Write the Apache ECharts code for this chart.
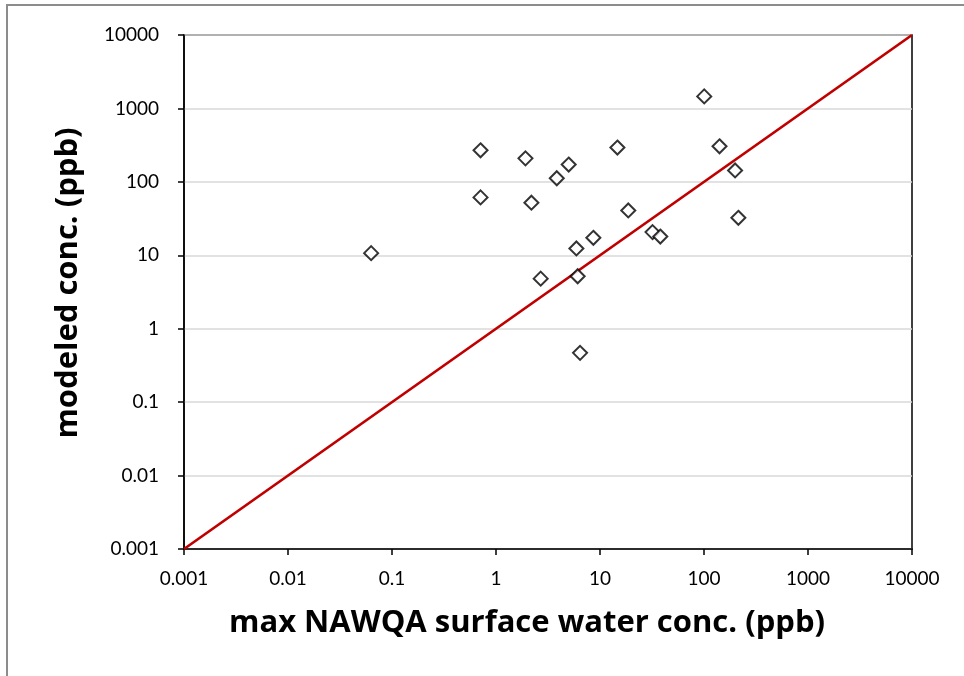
<!DOCTYPE html>
<html>
<head>
<meta charset="utf-8">
<script src="https://cdn.jsdelivr.net/npm/echarts@6/dist/echarts.min.js"></script>
<style>
  html, body { margin: 0; padding: 0; background: #fff; }
  #chart { width: 964px; height: 676px; }
</style>
</head>
<body>
<div id="chart"></div>
<script>
// Maximum NAWQA surface-water concentration vs. modeled concentration (ppb)
const nawqaMax = [0.063, 0.71, 0.71, 1.92, 2.19, 2.69, 3.84, 5.0, 5.93, 6.1, 6.43, 8.63, 14.7, 18.7, 32, 38, 100.5, 141, 199, 214];
const modeled  = [10.7, 269, 61.4, 209, 52, 4.81, 112, 172, 12.4, 5.18, 0.469, 17.3, 293, 40.8, 20.7, 18.0, 1459, 305, 143, 32.4];

// 1:1 reference line endpoints
const oneToOne = [0.001, 10000];

// Decade tick labels shared by both axes
const tickLabels = ['0.001', '0.01', '0.1', '1', '10', '100', '1000', '10000'];

const xTitle = 'max NAWQA surface water conc. (ppb)';
const yTitle = 'modeled conc. (ppb)';

const labelFont = 'Lato, "Open Sans", sans-serif';
const titleFont = '"Open Sans", Lato, sans-serif';

function decadeLabel(v) {
  const i = Math.round(Math.log10(v)) + 3;
  return tickLabels[i] !== undefined ? tickLabels[i] : '';
}

const chart = echarts.init(document.getElementById('chart'), null, { renderer: 'canvas' });

const axisCommon = {
  type: 'log',
  logBase: 10,
  min: 0.001,
  max: 10000,
  axisLine: { show: true, onZero: false, lineStyle: { color: '#000', width: 1.5 } },
  axisTick: { show: true, inside: false, length: 6, lineStyle: { color: '#000', width: 1.5 } },
  minorTick: { show: false },
  axisLabel: {
    formatter: decadeLabel,
    color: '#000',
    fontFamily: labelFont,
    fontSize: 19
  }
};

chart.setOption({
  animation: false,
  backgroundColor: '#fff',
  grid: { left: 184, top: 35, right: 52, bottom: 127, show: true, borderColor: '#000', borderWidth: 1.5, backgroundColor: 'transparent' },
  xAxis: Object.assign({}, axisCommon, {
    position: 'bottom',
    splitLine: { show: false },
    axisLabel: Object.assign({}, axisCommon.axisLabel, { margin: 20 })
  }),
  yAxis: Object.assign({}, axisCommon, {
    position: 'left',
    splitLine: { show: true, lineStyle: { color: '#d9d9d9', width: 1.5 } },
    axisLabel: Object.assign({}, axisCommon.axisLabel, { margin: 25 })
  }),
  series: [
    {
      type: 'line',
      data: oneToOne.map(v => [v, v]),
      symbol: 'none',
      lineStyle: { color: '#c00000', width: 2.75 },
      z: 2
    },
    {
      type: 'scatter',
      data: nawqaMax.map((x, i) => [x, modeled[i]]),
      symbol: 'diamond',
      symbolSize: 14,
      itemStyle: { color: '#fff', borderColor: '#000', borderWidth: 2 },
      z: 3
    }
  ],
  graphic: [
    {
      type: 'rect',
      shape: { x: 7, y: 5, width: 1100, height: 1100 },
      style: { fill: 'none', stroke: '#8c8c8c', lineWidth: 2 },
      silent: true
    },
    {
      type: 'text',
      x: 527,
      y: 623,
      style: {
        text: xTitle,
        font: 'bold 31px ' + titleFont,
        fill: '#000',
        textAlign: 'center',
        textVerticalAlign: 'middle'
      }
    },
    {
      type: 'text',
      x: 68,
      y: 283,
      rotation: Math.PI / 2,
      style: {
        text: yTitle,
        font: 'bold 31px ' + titleFont,
        fill: '#000',
        textAlign: 'center',
        textVerticalAlign: 'middle'
      }
    }
  ]
});
</script>
</body>
</html>
